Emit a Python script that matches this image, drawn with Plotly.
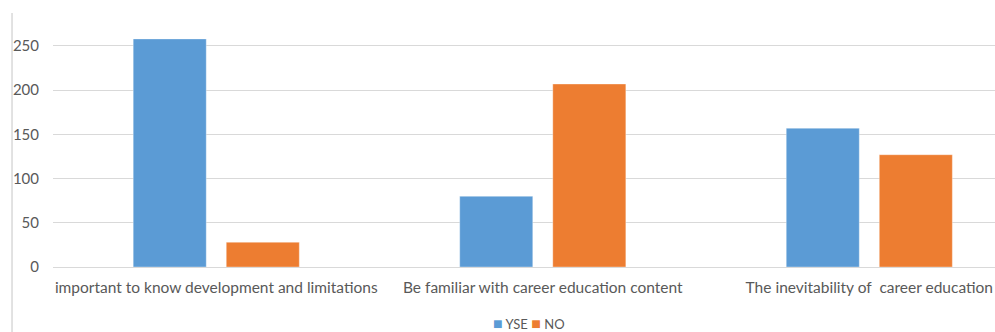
import plotly.graph_objects as go

categories = [
    "important to know development and limitations",
    "Be familiar with career education content",
    "The inevitability of  career education",
]
series_names = ["YSE", "NO"]
yes_values = [258, 80, 157]
no_values = [28, 207, 127]
y_ticks = [0, 50, 100, 150, 200, 250]

BLUE = "#5B9BD5"
ORANGE = "#ED7D31"
TEXT = "#595959"
GRID = "#D9D9D9"
FONT = "Lato"

fig = go.Figure()
for name, values, color in zip(series_names, [yes_values, no_values], [BLUE, ORANGE]):
    fig.add_trace(go.Bar(
        name=name, x=categories, y=values, showlegend=False,
        marker=dict(color=color, line=dict(color="rgba(255,255,255,0.35)", width=1)),
    ))

# thin border line on the left edge of the chart area
fig.add_shape(
    type="line", xref="paper", yref="paper",
    x0=-0.0435, x1=-0.0435, y0=1.028, y1=-0.3,
    line=dict(color=GRID, width=1.5),
)

# compact legend below the plot
legend_text = " ".join(
    f"<span style='color:{c};font-size:16px'>■</span> {n}"
    for n, c in zip(series_names, [BLUE, ORANGE])
)
fig.add_annotation(
    xref="paper", yref="paper", x=0.505, y=-0.225, xanchor="center", yanchor="middle",
    text=legend_text, showarrow=False, font=dict(family=FONT, size=13, color=TEXT),
)

fig.update_layout(
    width=995, height=332,
    margin=dict(l=53, r=0, t=20, b=65, autoexpand=False),
    paper_bgcolor="white", plot_bgcolor="white",
    barmode="group", bargap=0.43, bargroupgap=0.215,
    font=dict(family=FONT, size=15, color=TEXT),
)
fig.update_xaxes(
    type="category", range=[-0.5, 2.385],
    showgrid=False, showline=False, zeroline=False,
    ticks="outside", ticklen=6, tickcolor="rgba(0,0,0,0)",
    tickfont=dict(family=FONT, size=15.5, color=TEXT),
)
fig.update_yaxes(
    range=[0, 279.4], tickvals=y_ticks,
    showgrid=True, gridcolor=GRID, gridwidth=1,
    zeroline=True, zerolinecolor=GRID, zerolinewidth=1,
    showline=False,
    ticks="outside", ticklen=10, tickcolor="rgba(0,0,0,0)",
    tickfont=dict(family=FONT, size=15, color=TEXT),
)

fig.write_html("out.html")
